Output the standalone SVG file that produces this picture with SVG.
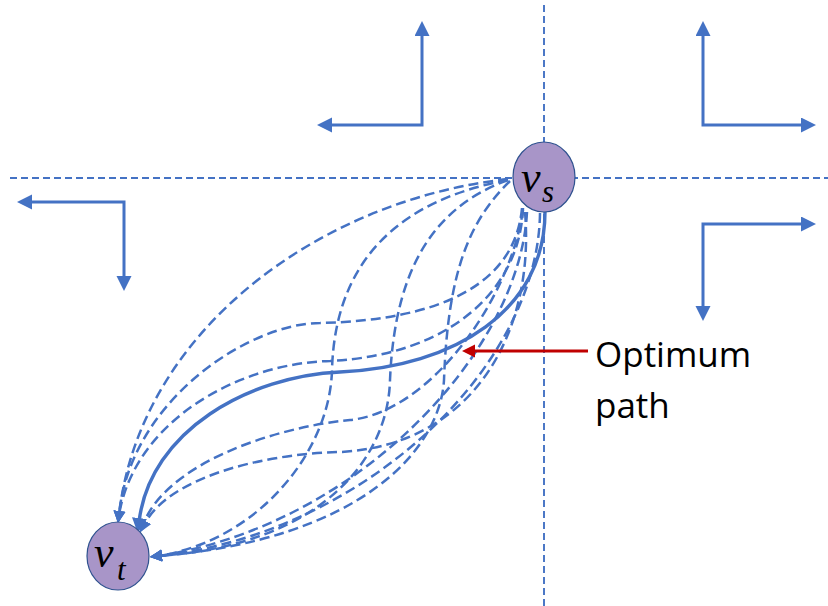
<svg xmlns="http://www.w3.org/2000/svg" width="828" height="606" viewBox="0 0 828 606">
<style>
.ref{fill:none;stroke:#4472C4;stroke-width:1.9;stroke-dasharray:7 4}
.larr{fill:none;stroke:#4472C4;stroke-width:3;marker-start:url(#ahs);marker-end:url(#ah)}
.dc{fill:none;stroke:#4472C4;stroke-width:2.5;stroke-dasharray:10 5;marker-end:url(#dh)}
.sc{fill:none;stroke:#4472C4;stroke-width:3.4;marker-end:url(#sh)}
.node{fill:#A895C8;stroke:#2F528F;stroke-width:1.2}
.math{font-family:"Liberation Serif","DejaVu Serif",serif;font-style:italic;fill:#000}
.lbl{font-family:"Open Sans","Liberation Sans",sans-serif;font-size:35px;fill:#000}
</style>
<defs>
<marker id="ah" markerUnits="userSpaceOnUse" markerWidth="16" markerHeight="16" refX="3" refY="7.5" orient="auto"><path d="M0,0 L15,7.5 L0,15 z" fill="#4472C4"/></marker>
<marker id="ahs" markerUnits="userSpaceOnUse" markerWidth="16" markerHeight="16" refX="3" refY="7.5" orient="auto-start-reverse"><path d="M0,0 L15,7.5 L0,15 z" fill="#4472C4"/></marker>
<marker id="dh" markerUnits="userSpaceOnUse" markerWidth="13" markerHeight="13" refX="4" refY="6" orient="auto"><path d="M0,0 L12,6 L0,12 z" fill="#4472C4"/></marker>
<marker id="sh" markerUnits="userSpaceOnUse" markerWidth="16" markerHeight="16" refX="4" refY="7.5" orient="auto"><path d="M0,0 L15,7.5 L0,15 z" fill="#4472C4"/></marker>
<marker id="rh" markerUnits="userSpaceOnUse" markerWidth="14" markerHeight="14" refX="3" refY="6.5" orient="auto"><path d="M0,0 L13,6.5 L0,13 z" fill="#C00000"/></marker>
</defs>

<g id="axes">
<line class="ref" x1="10" y1="178" x2="828" y2="178"/>
<line class="ref" x1="544" y1="5" x2="544" y2="606"/>
</g>

<g id="direction-arrows">
<path class="larr" d="M329,125 L422,125 L422,33"/>
<path class="larr" d="M703,33 L703,125 L804,125"/>
<path class="larr" d="M804,224 L703,224 L703,309"/>
<path class="larr" d="M29,202 L124,202 L124,279"/>
</g>

<g id="connectors">
<path class="dc" d="M508,179 C320,200 140,330 119,515"/>
<path class="dc" d="M522,208 C515,285 440,320 320,323 C250,323 130,400 119,515"/>
<path class="dc" d="M523,208 C520,290 450,355 330,361 C240,363 135,420 119,515"/>
<path class="dc" d="M523,210 C510,300 430,412 350,420 C270,428 165,465 143,525"/>
<path class="dc" d="M525,212 C535,330 475,445 340,452 C260,454 168,478 144,525"/>
<path class="dc" d="M508,180 C400,200 335,260 332,370 C330,450 260,540 158,556"/>
<path class="dc" d="M508,180 C440,205 395,260 390,380 C388,460 320,545 158,556"/>
<path class="dc" d="M510,181 C470,220 448,270 444,380 C440,450 360,540 158,556"/>
<path class="dc" d="M527,212 C520,350 360,525 158,556"/>
<path class="dc" d="M540,213 C538,370 360,535 158,556"/>
<path class="sc" d="M545,212 C545,310 455,367 340,372 C250,376 150,430 139,522"/>
</g>

<g id="optimum-label">
<line x1="588" y1="351" x2="472" y2="351" stroke="#C00000" stroke-width="3" marker-end="url(#rh)"/>
<text class="lbl" x="595" y="367">Optimum</text>
<text class="lbl" x="595" y="418">path</text>
</g>

<g id="node-vs">
<ellipse class="node" cx="544" cy="177" rx="31" ry="35"/>
<text class="math" x="521" y="192" font-size="44">v</text>
<text class="math" x="542" y="202" font-size="31">s</text>
</g>

<g id="node-vt">
<ellipse class="node" cx="118" cy="556" rx="31" ry="34"/>
<text class="math" x="94" y="567" font-size="44">v</text>
<text class="math" x="117" y="580" font-size="31">t</text>
</g>
</svg>
